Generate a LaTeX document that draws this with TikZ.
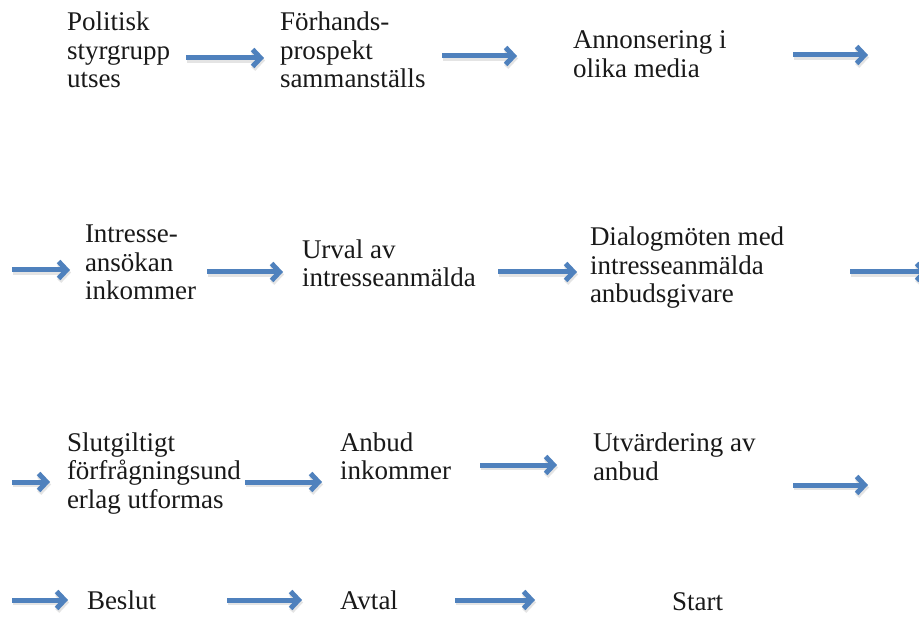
\documentclass[tikz,border=0pt]{standalone}
\usepackage{fontspec}
\setmainfont{Liberation Serif}
\usetikzlibrary{arrows.meta}
\definecolor{arrblue}{RGB}{79,129,189}
\definecolor{shadowc}{RGB}{150,150,150}
\begin{document}
\begin{tikzpicture}[x=1pt,y=-1pt,
  txt/.style={anchor=base west, inner sep=0pt, outer sep=0pt, align=left,
    font=\fontsize{27}{28.5}\selectfont, text=black!90},
  arr/.style={draw=arrblue, line width=5pt,
    -{Straight Barb[length=8pt,width=17pt,line width=5pt]},
    preaction={draw=shadowc, opacity=0.25, line width=5.5pt, transform canvas={shift={(1pt,-2.5pt)}},
      -{Straight Barb[length=8pt,width=17pt,line width=5.5pt]}}}]
\useasboundingbox[fill=white] (0,0) rectangle (919,620);
% texts (anchor = baseline of last line)
\node[txt] (A) at (67,88) {Politisk\\styrgrupp\\utses};
\node[txt] (B) at (280,88) {Förhands-\\prospekt\\sammanställs};
\node[txt] (C) at (573,77.5) {Annonsering i\\olika media};
\node[txt] (D) at (85,300) {Intresse-\\ansökan\\inkommer};
\node[txt] (E) at (302,287) {Urval av\\intresseanmälda};
\node[txt] (F) at (590,303) {Dialogmöten med\\intresseanmälda\\anbudsgivare};
\node[txt] (G) at (67,508) {Slutgiltigt\\förfrågningsund\\erlag utformas};
\node[txt] (H) at (340,479.5) {Anbud\\inkommer};
\node[txt] (I) at (593,480) {Utvärdering av\\anbud};
\node[txt] (J) at (87,609) {Beslut};
\node[txt] (K) at (340,609) {Avtal};
\node[txt] (L) at (672,610) {Start};
% arrow ends
\coordinate (a1s) at (186,58);  \coordinate (a1e) at (264,58);
\coordinate (a2s) at (442,56);  \coordinate (a2e) at (517,56);
\coordinate (a3s) at (793,55);  \coordinate (a3e) at (868,55);
\coordinate (a4s) at (12,270);  \coordinate (a4e) at (70,270);
\coordinate (a5s) at (207,272); \coordinate (a5e) at (283,272);
\coordinate (a6s) at (498,272); \coordinate (a6e) at (577,272);
\coordinate (a7s) at (850,272); \coordinate (a7e) at (928,272);
\coordinate (a8s) at (12,482);  \coordinate (a8e) at (50,482);
\coordinate (a9s) at (245,482); \coordinate (a9e) at (322,482);
\coordinate (a10s) at (480,465); \coordinate (a10e) at (557,465);
\coordinate (a11s) at (793,485); \coordinate (a11e) at (868,485);
\coordinate (a12s) at (12,600); \coordinate (a12e) at (68,600);
\coordinate (a13s) at (227,600); \coordinate (a13e) at (302,600);
\coordinate (a14s) at (455,600); \coordinate (a14e) at (535,600);
\foreach \i in {1,...,14} {\draw[arr] (a\i s) -- (a\i e);}
\end{tikzpicture}
\end{document}
